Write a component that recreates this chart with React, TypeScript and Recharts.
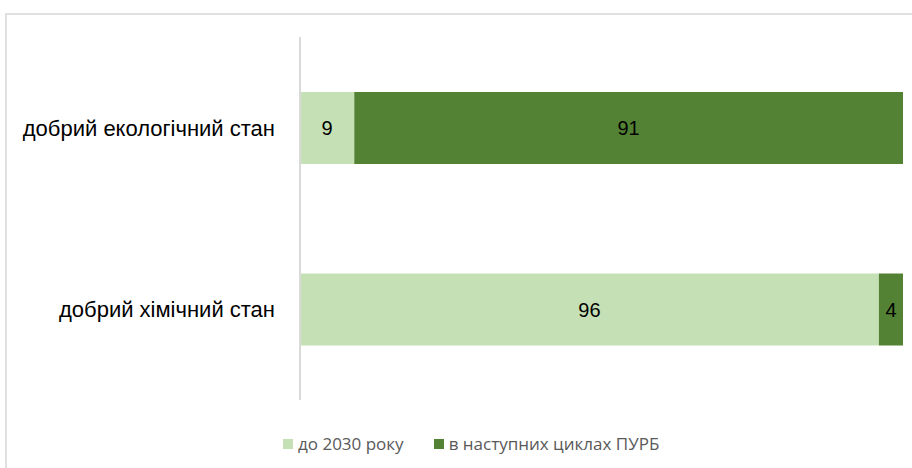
import React from "react";
import { BarChart, Bar, XAxis, YAxis, LabelList } from "recharts";

const categories = ["добрий екологічний стан", "добрий хімічний стан"];
const until2030 = [9, 96];
const nextCycles = [91, 4];
const seriesNames = ["до 2030 року", "в наступних циклах ПУРБ"];
const colors = ["#c5e0b4", "#548235"];

const data = categories.map((c, i) => ({ name: c, a: until2030[i], b: nextCycles[i] }));

const FONT = "'Liberation Sans', Arial, sans-serif";

export default function App() {
  return (
    <div style={{ position: "absolute", left: 0, top: 0, width: 912, height: 468, background: "#fff", overflow: "hidden" }}>
      <div style={{ position: "absolute", left: 5, top: 13, width: 930, height: 480, border: "2px solid #e0e0e0", boxSizing: "border-box" }} />
      <div style={{ position: "absolute", left: 0, top: 0 }}>
        <BarChart
          width={912}
          height={468}
          data={data}
          layout="vertical"
          margin={{ top: 37, right: 9, bottom: 68, left: 0 }}
          barSize={72}
        >
          <XAxis type="number" domain={[0, 100]} hide />
          <YAxis
            type="category"
            dataKey="name"
            width={300}
            tickSize={0}
            tickMargin={25}
            axisLine={{ stroke: "#d9d9d9", strokeWidth: 2 }}
            tickLine={false}
            tick={{ fill: "#000", fontSize: 22, fontFamily: FONT }}
          />
          <Bar dataKey="a" stackId="s" fill={colors[0]} isAnimationActive={false} name={seriesNames[0]}>
            <LabelList dataKey="a" position="center" fill="#000" fontSize={20} fontFamily={FONT} />
          </Bar>
          <Bar dataKey="b" stackId="s" fill={colors[1]} isAnimationActive={false} name={seriesNames[1]}>
            <LabelList dataKey="b" position="center" fill="#000" fontSize={20} fontFamily={FONT} />
          </Bar>
        </BarChart>
      </div>
      <div
        style={{
          position: "absolute",
          left: 283,
          top: 432,
          display: "flex",
          alignItems: "center",
          fontFamily: "'Open Sans', sans-serif",
          fontSize: 17,
          color: "#595959",
          whiteSpace: "nowrap",
        }}
      >
        {seriesNames.map((n, i) => (
          <div key={n} style={{ display: "flex", alignItems: "center", marginRight: i === 0 ? 30 : 0 }}>
            <span style={{ display: "inline-block", width: 10, height: 10, background: colors[i], marginRight: 5 }} />
            <span>{n}</span>
          </div>
        ))}
      </div>
    </div>
  );
}
